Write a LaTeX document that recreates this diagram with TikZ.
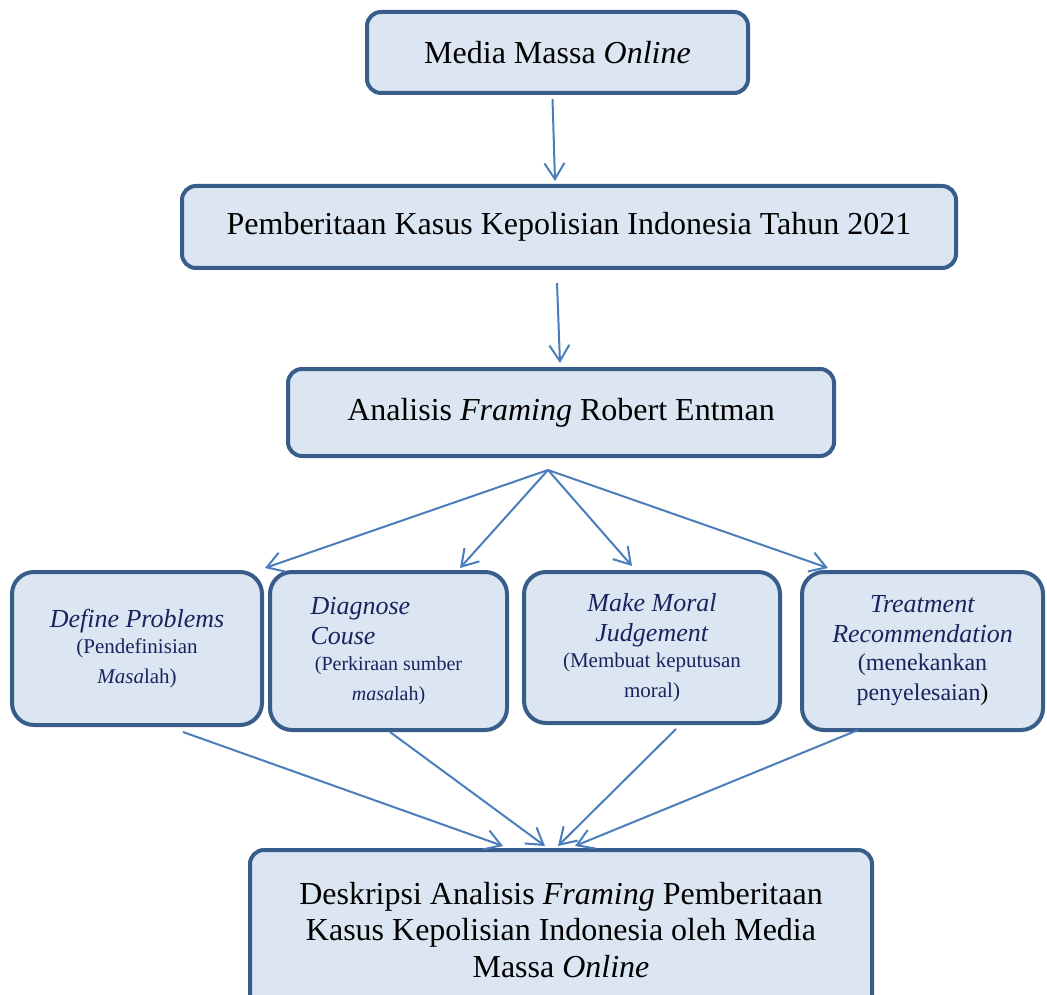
\documentclass[tikz,border=0pt]{standalone}
\usepackage{fontspec}
\setmainfont{Liberation Serif}
\usetikzlibrary{calc,arrows.meta}
\definecolor{boxfill}{RGB}{220,230,242}
\definecolor{boxline}{RGB}{56,93,138}
\definecolor{arrline}{RGB}{74,126,187}
\definecolor{navytext}{RGB}{23,37,94}
\newcommand{\subsmall}{\fontsize{10.5}{13.5}\selectfont}
\newcommand{\subtiny}{\fontsize{10}{13.5}\selectfont}
\newcommand{\sublarge}{\fontsize{12}{14}\selectfont}

\begin{document}
\begin{tikzpicture}[x=0.5pt,y=-0.5pt,
    box/.style={draw=boxline, fill=boxfill, line width=2pt, rounded corners=7pt,
      inner sep=0pt, align=center, font=\fontsize{16}{18.3}\selectfont},
    subbox/.style={box, rounded corners=11pt, text=navytext, font=\fontsize{13}{15}\selectfont},
    arr/.style={draw=arrline, line width=1pt, -{Straight Barb[length=8pt,width=10pt]}}
  ]
    \useasboundingbox (0,0) rectangle (1047,994);

    % Main chain of boxes
    \node[box, minimum width=190.5pt, minimum height=40.5pt] (media) at (557.5,52.5) {Media Massa \textit{Online}};
    \node[box, minimum width=387pt, minimum height=41pt] (kasus) at (569,227) {Pemberitaan Kasus Kepolisian Indonesia Tahun 2021};
    \node[box, minimum width=273pt, minimum height=43.5pt] (analisis) at (561,412.5) {Analisis \textit{Framing} Robert Entman};

    % The four framing elements
    \node[subbox, minimum width=125pt, minimum height=76.5pt] (def) at (137,648.5)
      {\textit{Define Problems}\\[-2pt] \subsmall (Pendefinisian\\ \subsmall\textit{Masa}lah)};
    \node[subbox, minimum width=118.5pt, minimum height=79pt] (diag) at (388.5,651)
      {\makebox[78pt][l]{\textit{Diagnose}}\\ \makebox[78pt][l]{\textit{Couse}}\\[-2pt] \subtiny (Perkiraan sumber\\ \subtiny\textit{masa}lah)};
    \node[subbox, minimum width=128pt, minimum height=75.5pt] (moral) at (652,647.5)
      {\textit{Make Moral}\\ \textit{Judgement}\\[-2pt] \subsmall (Membuat keputusan\\ \subsmall moral)};
    \node[subbox, minimum width=120.5pt, minimum height=79pt] (treat) at (922.5,651)
      {\textit{Treatment}\\ \textit{Recommendation}\\[-1pt] \sublarge (menekankan\\ \sublarge penyelesaian\textcolor{black}{)}};

    % Result
    \node[box, minimum width=311pt, minimum height=80pt] (desk) at (561,930)
      {Deskripsi Analisis \textit{Framing} Pemberitaan\\ Kasus Kepolisian Indonesia oleh Media\\ Massa \textit{Online}};

    % Arrows down the chain
    \draw[arr] ($(media.south)+(-5,4)$) -- ($(kasus.north)+(-14,-3)$);
    \draw[arr] ($(kasus.south)+(-12,13)$) -- ($(analisis.north)+(-1,-4)$);

    % Fan out to the four elements
    \coordinate (fan) at ($(analisis.south)+(-13,12)$);
    \draw[arr] (fan) -- ($(def.north east)+(1,-2)$);
    \draw[arr] (fan) -- ($(diag.north)+(71.5,-2)$);
    \draw[arr] (fan) -- ($(moral.north)+(-20,-4)$);
    \draw[arr] (fan) -- ($(treat.north west)+(28,-2)$);

    % Converge on the result
    \draw[arr] ($(def.south)+(46,5)$) -- ($(desk.north)+(-58,-2)$);
    \draw[arr] ($(diag.south)+(1.5,0)$) -- ($(desk.north)+(-16,-2)$);
    \draw[arr] ($(moral.south)+(24,4)$) -- ($(desk.north)+(-3,-2)$);
    \draw[arr] ($(treat.south)+(-64.5,-2)$) -- ($(desk.north)+(14,-2)$);
\end{tikzpicture}
\end{document}
